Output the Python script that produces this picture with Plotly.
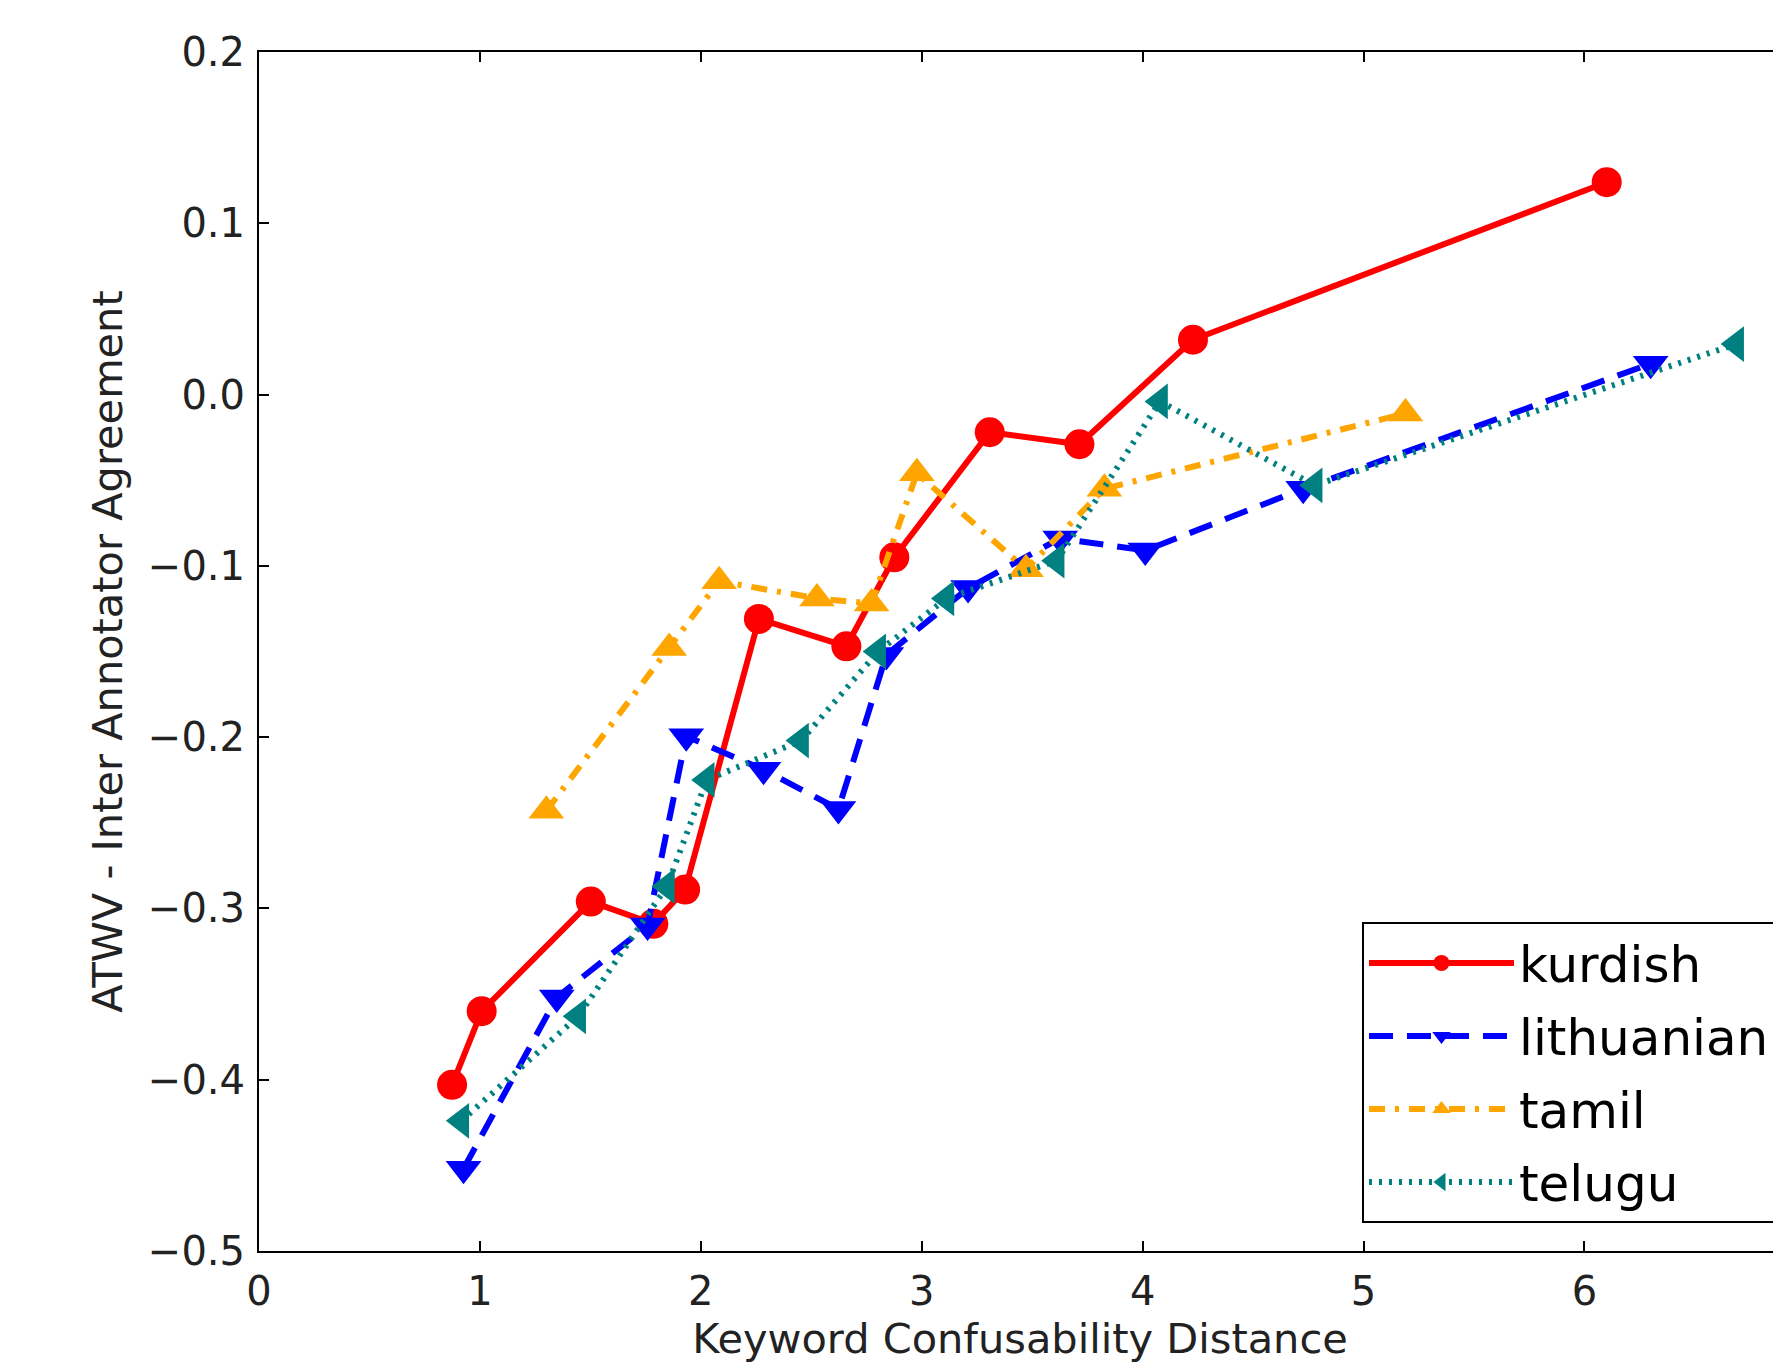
import plotly.graph_objects as go

kurdish_x = [0.874, 1.008, 1.502, 1.785, 1.929, 2.263, 2.659, 2.876, 3.308, 3.714, 4.228, 6.101]
kurdish_y = [-0.403, -0.360, -0.296, -0.309, -0.289, -0.131, -0.147, -0.095, -0.022, -0.029, 0.032, 0.124]

lithuanian_x = [0.926, 1.348, 1.759, 1.934, 2.284, 2.623, 2.840, 3.210, 3.627, 4.012, 4.727, 6.300]
lithuanian_y = [-0.452, -0.352, -0.310, -0.1995, -0.219, -0.242, -0.152, -0.113, -0.084, -0.091, -0.055, 0.018]

tamil_x = [1.301, 1.857, 2.083, 2.526, 2.773, 2.978, 3.472, 3.827, 5.190]
tamil_y = [-0.243, -0.148, -0.109, -0.119, -0.122, -0.046, -0.102, -0.055, -0.011]

telugu_x = [0.916, 1.445, 1.847, 2.027, 2.454, 2.803, 3.112, 3.611, 4.079, 4.779, 6.687]
telugu_y = [-0.424, -0.363, -0.287, -0.225, -0.202, -0.150, -0.119, -0.097, -0.004, -0.053, 0.0295]

x_ticks = [0, 1, 2, 3, 4, 5, 6]
y_ticks = [-0.5, -0.4, -0.3, -0.2, -0.1, 0.0, 0.1, 0.2]

series = [
    ("kurdish", kurdish_x, kurdish_y, "#FF0000", "solid", "circle", 30),
    ("lithuanian", lithuanian_x, lithuanian_y, "#0000FF", "24px,14px", "triangle-down", 31),
    ("tamil", tamil_x, tamil_y, "#FFA500", "16px,10px,4px,10px", "triangle-up", 31),
    ("telugu", telugu_x, telugu_y, "#008080", "3px,7px", "triangle-left", 31),
]

fig = go.Figure()
for name, xs, ys, color, dash, sym, msize in series:
    fig.add_trace(go.Scatter(
        x=xs, y=ys, name=name, mode="lines+markers", legendgroup=name,
        line=dict(color=color, width=6, dash=dash),
        marker=dict(symbol=sym, size=msize, color=color, line=dict(width=0)),
    ))

font = "DejaVu Sans"
fig.update_layout(
    width=1773, height=1356,
    paper_bgcolor="white", plot_bgcolor="white",
    margin=dict(l=251, r=0, t=44, b=113),
    font=dict(family=font, size=40, color="#222222"),
    showlegend=True,
    legend=dict(
        x=0.7247, y=0.2744, xanchor="left", yanchor="top",
        bordercolor="black", borderwidth=2, bgcolor="white",
        font=dict(family=font, size=50, color="black"),
        itemwidth=145, tracegroupgap=5,
    ),
    xaxis=dict(
        range=[0, 6.89], tickvals=x_ticks, ticks="inside", ticklen=10, tickwidth=1.5,
        tickcolor="black", showline=True, linecolor="black", linewidth=2,
        mirror="ticks", showgrid=False, zeroline=False,
        title=dict(text="Keyword Confusability Distance", font=dict(family=font, size=41.5), standoff=4),
        tickfont=dict(family=font, size=40, color="#222222"),
        ticklabelstandoff=4,
    ),
    yaxis=dict(
        range=[-0.5, 0.2], tickvals=y_ticks, tickformat=".1f", ticks="inside", ticklen=10,
        tickwidth=1.5, tickcolor="black", showline=True, linecolor="black", linewidth=2,
        mirror=False, showgrid=False, zeroline=False,
        title=dict(text="ATWV - Inter Annotator Agreement", font=dict(family=font, size=41.5), standoff=12),
        tickfont=dict(family=font, size=40, color="#222222"),
        ticklabelstandoff=4,
    ),
)

fig.write_html("out.html")
